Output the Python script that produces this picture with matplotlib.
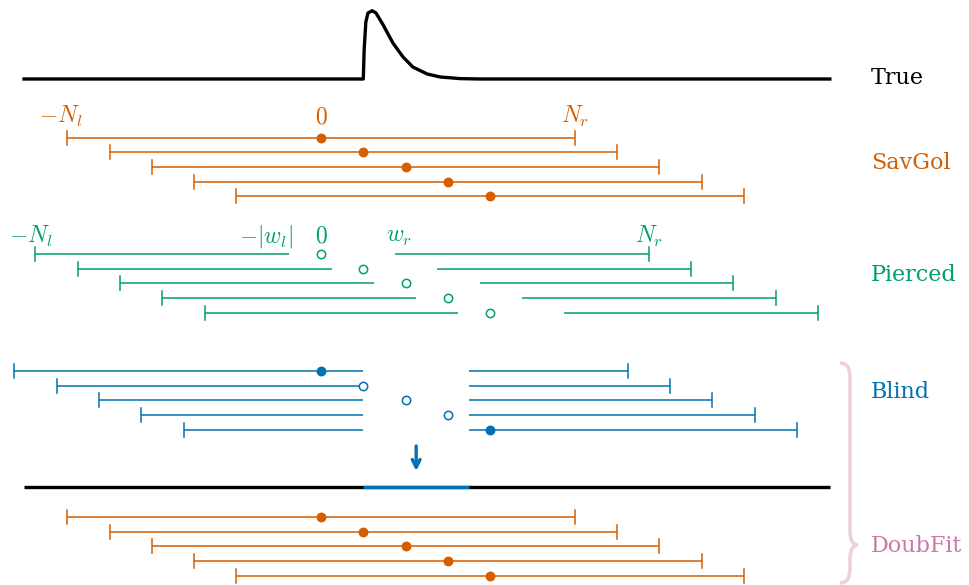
import numpy as np
import matplotlib.pyplot as plt
from matplotlib.path import Path
from matplotlib.patches import PathPatch

plt.rcParams['mathtext.fontset'] = 'cm'
plt.rcParams['font.family'] = ['DejaVu Serif']

# colours
c_sav = '#d55e00'
c_pie = '#009e73'
c_bli = '#0072b2'
c_dbl = '#cc79a7'

# sample grid: x in samples, pixel x = X0 + DX*n
X0, DX = 321, 42.3

# true peak (samples, pixel height)
true_x = [-7.02, 1.0, 1.02, 1.06, 1.11, 1.21, 1.30, 1.47, 1.70, 1.94, 2.17, 2.51, 2.82, 3.29, 3.76, 12.03]
true_y = [79, 79, 50, 22, 13, 10.7, 13, 25, 43, 57, 67, 74, 77, 78.6, 79, 79]

centers = [0, 1, 2, 3, 4]
N_l, N_r = 6, 6

# pierced window
pie_wl, pie_wr = 0.75, 1.75
pie_nl, pie_nr = 6.75, 7.75

# blind window
bli_half = 7.25
bli_gap = (1.0, 3.5)
bli_filled = [True, False, False, False, True]

# row layout (pixel y)
sav_y0, pie_y0, bli_y0, dbl_y0, dy = 137.5, 254, 371, 517, 14.7
true_base, out_base = 78, 487
cap = 7
lab_x = 13.0

fig = plt.figure(figsize=(9.69, 5.85), dpi=100)
ax = fig.add_axes([0, 0, 1, 1])
ax.set_xlim((0 - X0) / DX, (969 - X0) / DX)
ax.set_ylim(585, 0)
ax.axis('off')

def seg(x1, x2, y, col, capl=True, capr=True):
    ax.plot([x1, x2], [y, y], color=col, lw=1.1, solid_capstyle='butt')
    if capl:
        ax.plot([x1, x1], [y - cap, y + cap], color=col, lw=1.1)
    if capr:
        ax.plot([x2, x2], [y - cap, y + cap], color=col, lw=1.1)

def dot(x, y, col, filled=True):
    ax.plot(x, y, 'o', ms=6, mfc=col if filled else 'white',
            mec=col, mew=1.1, zorder=5)

# true signal
ax.plot(true_x, true_y, color='k', lw=2.4, solid_joinstyle='round')
ax.text(lab_x, true_base, 'True', fontsize=16, va='center', ha='left')

# SavGol
for i, c in enumerate(centers):
    y = sav_y0 + i * dy
    seg(c - N_l, c + N_r, y, c_sav)
    dot(c, y, c_sav)
ax.text(-N_l - 0.15, sav_y0 - 21, r'$-N_l$', color=c_sav, fontsize=17, ha='center', va='center')
ax.text(0, sav_y0 - 21, r'$0$', color=c_sav, fontsize=17, ha='center', va='center')
ax.text(N_r, sav_y0 - 21, r'$N_r$', color=c_sav, fontsize=17, ha='center', va='center')
ax.text(lab_x, 163, 'SavGol', color=c_sav, fontsize=16, va='center', ha='left')

# Pierced
for i, c in enumerate(centers):
    y = pie_y0 + i * dy
    seg(c - pie_nl, c - pie_wl, y, c_pie, capr=False)
    seg(c + pie_wr, c + pie_nr, y, c_pie, capl=False)
    dot(c, y, c_pie, filled=False)
ty = pie_y0 - 18
ax.text(-pie_nl - 0.1, ty, r'$-N_l$', color=c_pie, fontsize=17, ha='center', va='center')
ax.text(-pie_wl - 0.55, ty, r'$-|w_l|$', color=c_pie, fontsize=17, ha='center', va='center')
ax.text(0, ty, r'$0$', color=c_pie, fontsize=17, ha='center', va='center')
ax.text(pie_wr + 0.1, ty + 1, r'$w_r$', color=c_pie, fontsize=17, ha='center', va='center')
ax.text(pie_nr, ty, r'$N_r$', color=c_pie, fontsize=17, ha='center', va='center')
ax.text(lab_x, 275, 'Pierced', color=c_pie, fontsize=16, va='center', ha='left')

# Blind
for i, c in enumerate(centers):
    y = bli_y0 + i * dy
    seg(c - bli_half, bli_gap[0], y, c_bli, capr=False)
    seg(bli_gap[1], c + bli_half, y, c_bli, capl=False)
    dot(c, y, c_bli, filled=bli_filled[i])
ax.text(lab_x, 392, 'Blind', color=c_bli, fontsize=16, va='center', ha='left')

# arrow and output line
mid = (bli_gap[0] + bli_gap[1]) / 2
ax.annotate('', xy=(mid, 471), xytext=(mid, 446),
            arrowprops=dict(arrowstyle='->', color=c_bli, lw=2.4, mutation_scale=14,
                            shrinkA=0, shrinkB=0))
ax.plot([true_x[0], true_x[-1]], [out_base, out_base], color='k', lw=2.4, solid_capstyle='butt')
ax.plot([bli_gap[0], bli_gap[1]], [out_base, out_base], color=c_bli, lw=2.4, solid_capstyle='butt')

# DoubFit
for i, c in enumerate(centers):
    y = dbl_y0 + i * dy
    seg(c - N_l, c + N_r, y, c_sav)
    dot(c, y, c_sav)
ax.text(lab_x, 546, 'DoubFit', color=c_dbl, fontsize=16, va='center', ha='left')

# brace
def ux(p):
    return (p - X0) / DX
verts = [(ux(840), 363), (ux(850), 363), (ux(850), 377), (ux(850), 531),
         (ux(850), 545), (ux(858), 545), (ux(850), 545), (ux(850), 559),
         (ux(850), 569), (ux(850), 583), (ux(840), 583)]
codes = [Path.MOVETO, Path.CURVE3, Path.CURVE3, Path.LINETO,
         Path.CURVE3, Path.CURVE3, Path.CURVE3, Path.CURVE3,
         Path.LINETO, Path.CURVE3, Path.CURVE3]
ax.add_patch(PathPatch(Path(verts, codes), fc='none', ec=c_dbl, alpha=0.35, lw=2.6))

fig.savefig('out.png', dpi=100)
